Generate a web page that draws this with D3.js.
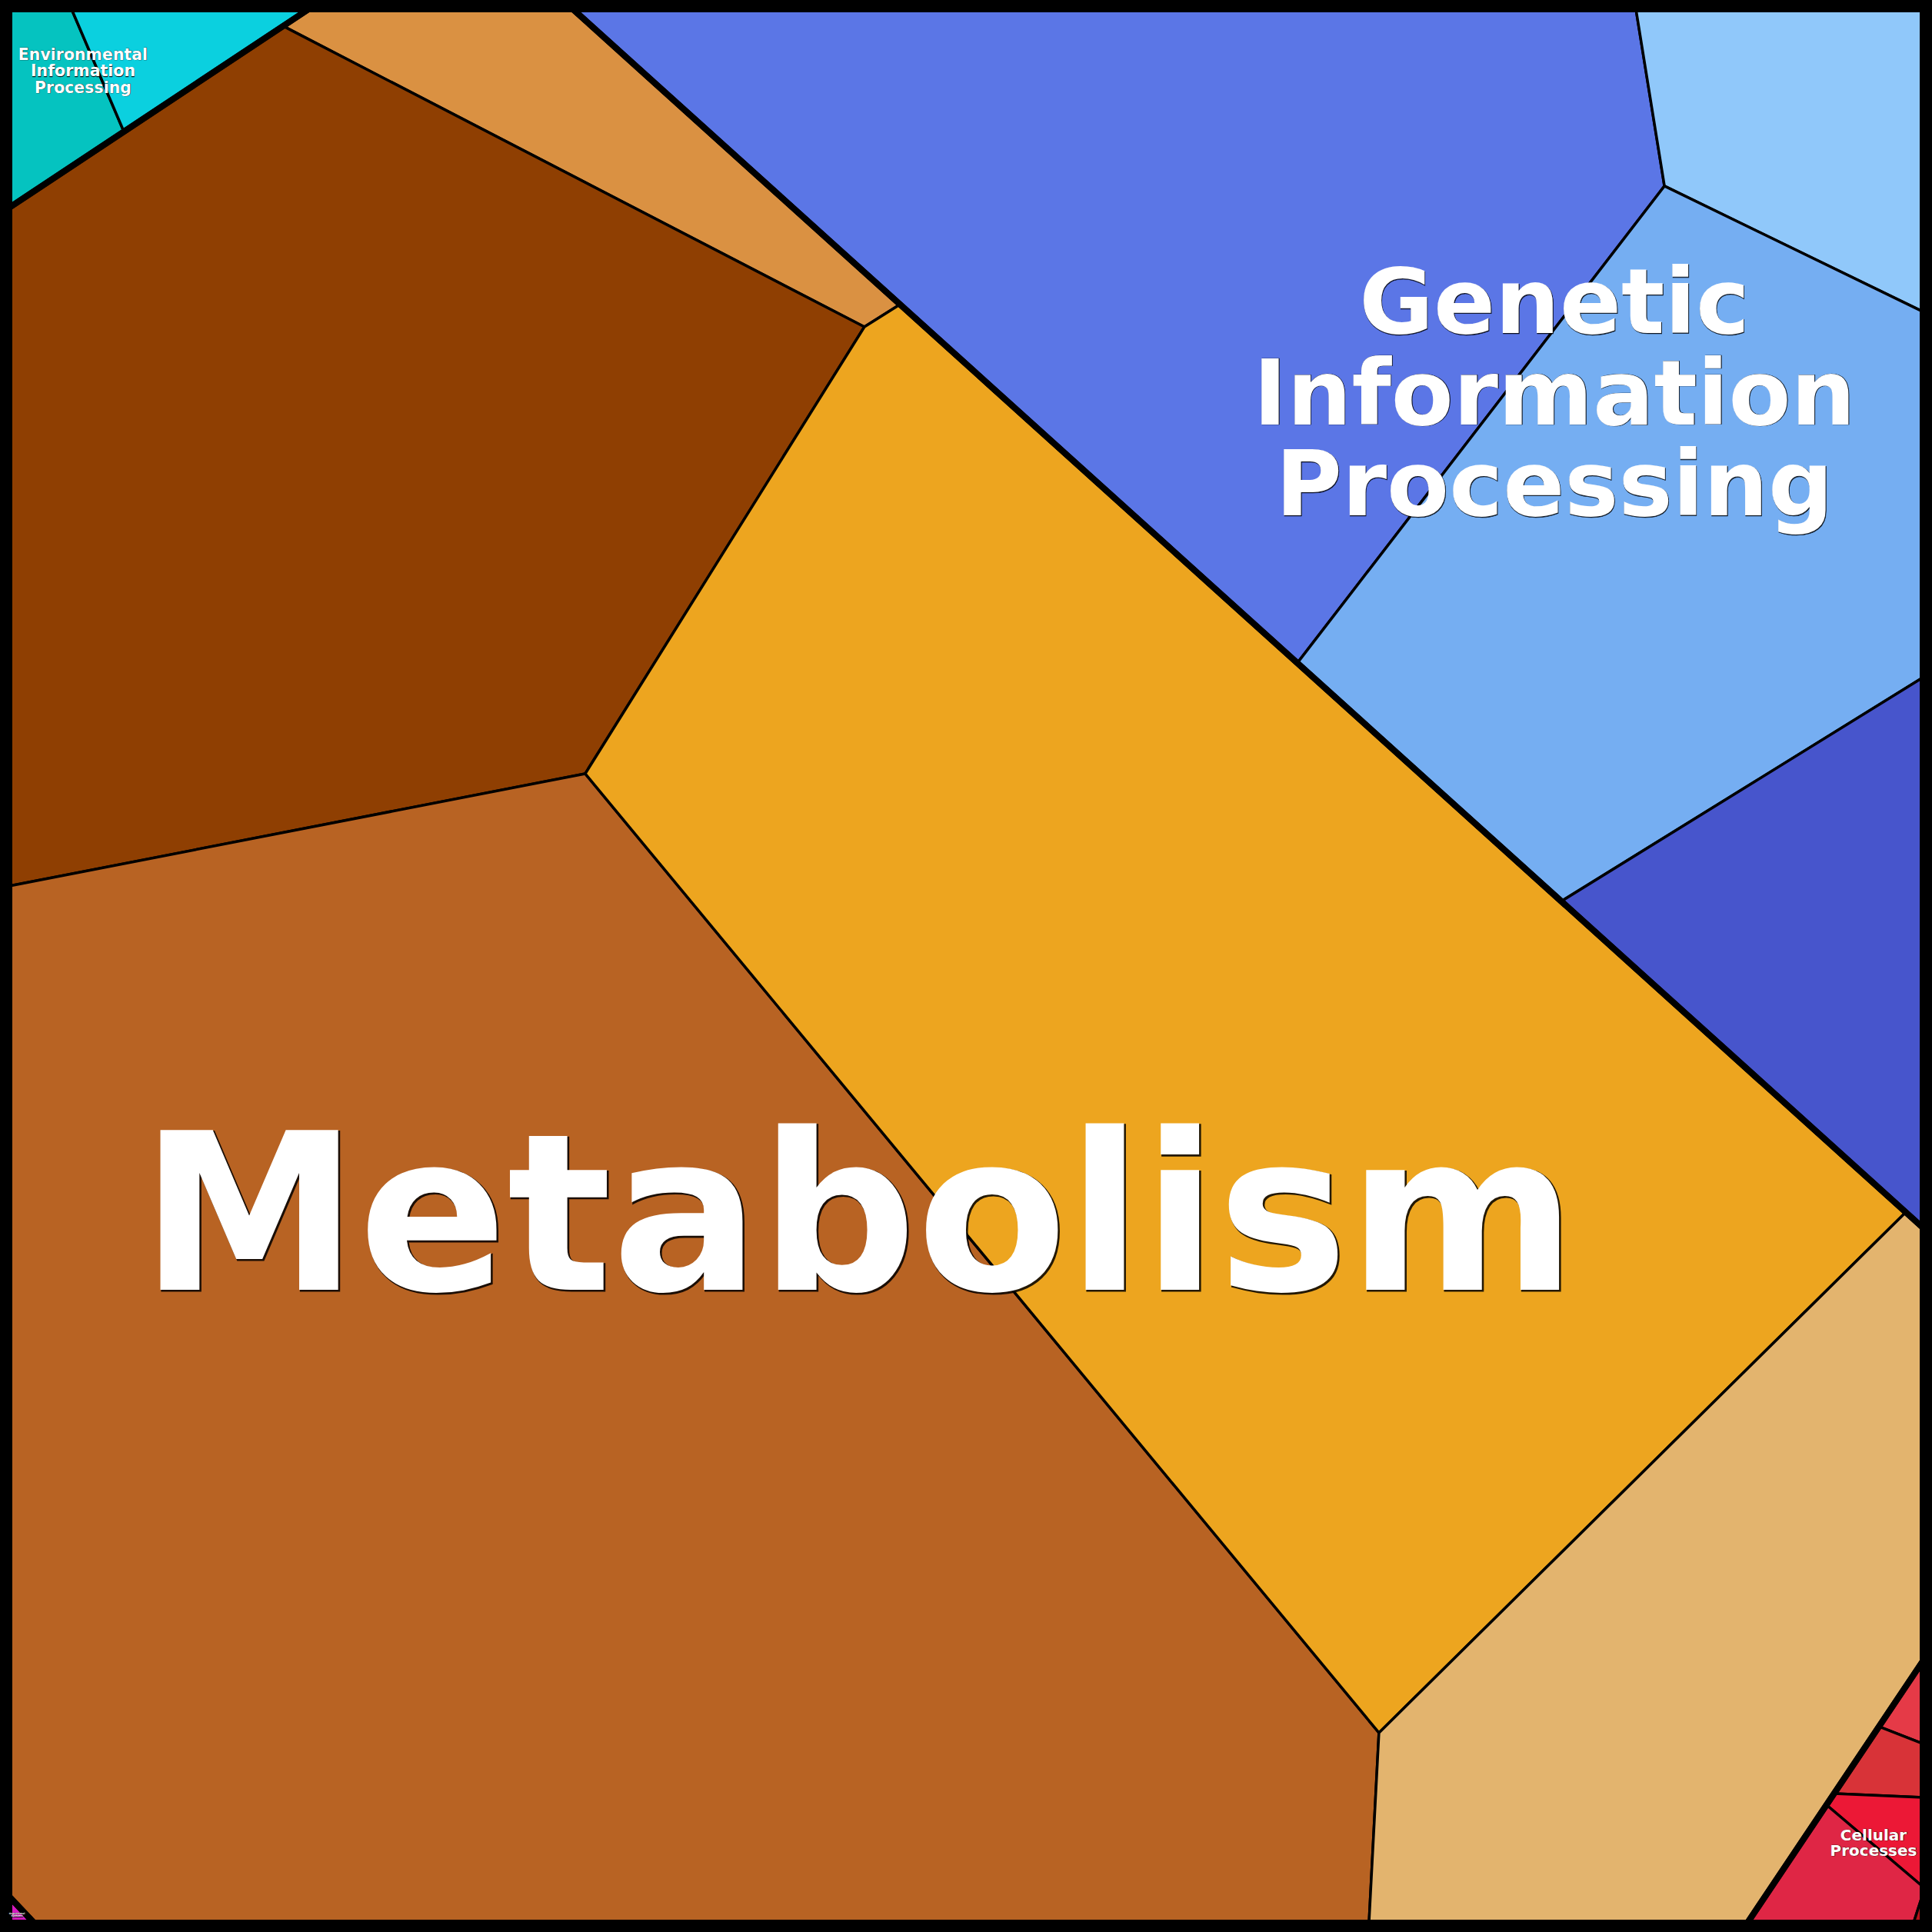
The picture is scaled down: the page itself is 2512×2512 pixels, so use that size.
<!DOCTYPE html>
<html>
<head>
<meta charset="utf-8">
<script src="https://cdn.jsdelivr.net/npm/d3@7"></script>
<style>
  html, body { margin: 0; padding: 0; background: #000; }
  svg { display: block; }
</style>
</head>
<body>
<script>
// ---- Data: Voronoi treemap layout (layout units 0..1000 on each axis) ----
const categories = [
  "Environmental Information Processing",
  "Metabolism",
  "Genetic Information Processing",
  "Cellular Processes",
  "Organismal Systems"
];

// leaf cells: parent category index
const cellGroup = [0, 0, 1, 1, 1, 1, 1, 2, 2, 2, 2, 3, 3, 3, 3, 3, 4];

const cellColors = [
  "#05C3C0", "#0BD0DF",
  "#DA9142", "#8F3F02", "#B86323", "#EDA51F", "#E3B46E",
  "#5B76E6", "#90C8FA", "#75AEF2", "#4755CC",
  "#E53A47", "#D83338", "#EC1836", "#DF2645", "#B5121B",
  "#D619C0"
];

const cellPolygons = [
  [[0, 0], [32.6, 0], [59.9, 63.9], [0, 103.7]],
  [[32.6, 0], [156.4, 0], [59.9, 63.9]],
  [[156.4, 0], [294.6, 0], [465.4, 154.3], [446.9, 166.0], [143.1, 8.8]],
  [[143.1, 8.8], [446.9, 166.0], [301.0, 399.5], [0, 458.2], [0, 103.7]],
  [[0, 458.2], [301.0, 399.5], [715.8, 900.7], [710.6, 1000], [12.9, 1000], [0, 986.3]],
  [[446.9, 166.0], [465.4, 154.3], [991.2, 628.6], [715.8, 900.7], [301.0, 399.5]],
  [[991.2, 628.6], [1000, 636.7], [1000, 863.3], [908.4, 1000], [710.6, 1000], [715.8, 900.7]],
  [[294.6, 0], [850.1, 0], [865.0, 92.4], [673.2, 341.6]],
  [[850.1, 0], [1000, 0], [1000, 158.0], [865.0, 92.4]],
  [[865.0, 92.4], [1000, 158.0], [1000, 349.3], [811.1, 466.2], [673.2, 341.6]],
  [[811.1, 466.2], [1000, 349.3], [1000, 636.7]],
  [[1000, 863.3], [1000, 906.4], [977.1, 897.5]],
  [[977.1, 897.5], [1000, 906.4], [1000, 934.5], [953.8, 932.5]],
  [[953.8, 932.5], [1000, 934.5], [1000, 981.1], [949.8, 938.5]],
  [[949.8, 938.5], [1000, 981.1], [1000, 985.1], [995.2, 1000], [908.4, 1000]],
  [[1000, 985.1], [1000, 1000], [995.2, 1000]],
  [[0, 986.3], [12.9, 1000], [0, 1000]]
];

const groupPolygons = [
  [[0, 0], [156.4, 0], [0, 103.7]],
  [[156.4, 0], [294.6, 0], [1000, 636.7], [1000, 863.3], [908.4, 1000], [12.9, 1000], [0, 986.3], [0, 103.7]],
  [[294.6, 0], [1000, 0], [1000, 636.7]],
  [[1000, 863.3], [1000, 1000], [908.4, 1000]],
  [[0, 986.3], [12.9, 1000], [0, 1000]]
];

const labelLines = [
  ["Environmental", "Information", "Processing"],
  ["Metabolism"],
  ["Genetic", "Information", "Processing"],
  ["Cellular", "Processes"],
  ["Organismal", "Systems"]
];

// ---- Rendering ----
const W = 2512, H = 2512;
const x = d3.scaleLinear().domain([0, 1000]).range([12, 2500]);
const y = d3.scaleLinear().domain([0, 1000]).range([12, 2500]);

const svg = d3.select("body").append("svg")
  .attr("width", W).attr("height", H)
  .attr("viewBox", `0 0 ${W} ${H}`);

svg.append("rect").attr("width", W).attr("height", H).attr("fill", "#000");

const line = d3.line().x(d => x(d[0])).y(d => y(d[1])).curve(d3.curveLinearClosed);

svg.append("g").selectAll("path")
  .data(cellPolygons)
  .join("path")
  .attr("d", d => line(d))
  .attr("fill", (d, i) => cellColors[i])
  .attr("stroke", "#000")
  .attr("stroke-width", 3.5)
  .attr("stroke-linejoin", "round");

svg.append("g").selectAll("path")
  .data(groupPolygons)
  .join("path")
  .attr("d", d => line(d))
  .attr("fill", "none")
  .attr("stroke", "#000")
  .attr("stroke-width", 8)
  .attr("stroke-linejoin", "round");

// outer frame
svg.append("rect")
  .attr("x", 6).attr("y", 6).attr("width", 2500).attr("height", 2500)
  .attr("fill", "none").attr("stroke", "#000").attr("stroke-width", 12);

// label placement (pixel space)
const labelStyle = [
  { cx: 108, y0: 77.7, size: 20.5, step: 21.5 },
  { cx: 1116, y0: 1677, size: 285, step: 0 },
  { cx: 2021, y0: 433, size: 118, step: 118.5 },
  { cx: 2436, y0: 2393, size: 20, step: 20 },
  { cx: 22, y0: 2489, size: 3.2, step: 3.4 }
];

const labels = svg.append("g")
  .attr("font-family", "'DejaVu Sans', sans-serif")
  .attr("font-weight", "bold")
  .attr("text-anchor", "middle");

categories.forEach((cat, i) => {
  const st = labelStyle[i];
  const off = Math.max(0.4, st.size * 0.006);
  labelLines[i].forEach((t, j) => {
    labels.append("text")
      .attr("x", st.cx + off).attr("y", st.y0 + j * st.step + off)
      .attr("font-size", st.size)
      .attr("fill", "#000")
      .attr("stroke", "#000")
      .attr("stroke-width", Math.max(0.3, st.size * 0.006))
      .attr("opacity", 0.85)
      .text(t);
    labels.append("text")
      .attr("x", st.cx).attr("y", st.y0 + j * st.step)
      .attr("font-size", st.size)
      .attr("fill", "#fff")
      .text(t);
  });
});
</script>
</body>
</html>
